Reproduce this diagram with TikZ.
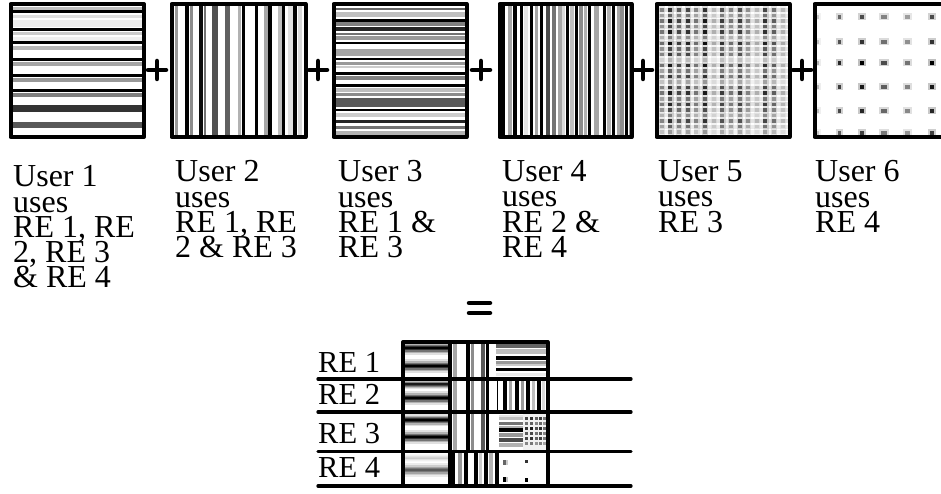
\documentclass[tikz,border=0pt]{standalone}
\usepackage{fontspec}
\setmainfont{Liberation Serif}
\newcommand{\mytight}{\lineskiplimit=-50pt\relax\lineskip=0pt\relax}
\newcommand{\mygband}[5]{%
  \foreach \k/\s in {1/12,0.75/30,0.5/55,0.3/80,0.12/100}{%
    \pgfmathsetmacro\myg{\s*#5/100}%
    \fill[black!\myg] (#1,{#3-#4*\k}) rectangle (#2,{#3+#4*\k});}}
\begin{document}
\begin{tikzpicture}[x=1pt,y=-1pt,
  sq/.style={draw=black,line width=4pt,line join=round},
  pluss/.style={line width=4.5pt,line cap=round},
  lbl/.style={font={\fontsize{32}{25.3}\selectfont\mytight},
    align=left,inner sep=0pt,anchor=north west},
  relbl/.style={font={\fontsize{30.5}{30}\selectfont},inner sep=0pt,anchor=base west},
  sepline/.style={line width=3.3pt,line cap=round}]
\useasboundingbox (0,0) rectangle (941,494);
\begin{scope}
\clip (0,0) rectangle (941,494);
% ---------- square 1 : horizontal stripes
\foreach \a/\b/\g in {7/10/25,10.5/13.5/100,15/18/12,20/27/8,28.5/31.5/100,32/35/20,37/41/6,
  41.5/44.5/100,46/50/28,58.5/61.5/100,62/66/35,74.5/77.5/100,78/82/40,89.5/92.5/100,
  93/97/50,105/112/80,122/128/65}
  \fill[black!\g] (10.5,\a) rectangle (144,\b);
\draw[sq] (10.5,4) rectangle (144,137);
% ---------- square 2 : vertical stripes
\foreach \a/\b/\g in {175/178/40,185/189/100,190/193/45,199/203/95,204/206/55,212/218/68,
  225/230/62,238/241/30,242/245/100,255/258/100,264/268/35,268/272/100,278/282/25,
  282/285/100,288/293/12,293/297/100,298/302/15}
  \fill[black!\g] (\a,4) rectangle (\b,137);
\draw[sq] (171.5,4) rectangle (305.5,137);
% ---------- square 3 : horizontal stripes
\foreach \a/\b/\g in {8/10/60,12/17/25,19/22/100,22/26/50,27/31/85,33/35/55,36/40/40,
  42/44.5/100,49/56/35,58/60.5/100,62/65/40,66/68/20,72/75/100,76/80/50,84/87/100,
  88/92/25,93/96/45,98/107/65,109/111/100,113/117/20,120/123/85,126/129/55,131/135/30}
  \fill[black!\g] (333.5,\a) rectangle (466.5,\b);
\draw[sq] (333.5,4) rectangle (466.5,137);
% ---------- square 4 : vertical stripes
\foreach \a/\b/\g in {501/505/100,508/512/35,513/517/100,520/523/100,524/528/10,530/533/100,
  535/538/35,540/543/100,546/550/70,552/556/55,558/562/35,562/565/15,566/569/100,570/574/25,
  575/578/100,579/583/45,584/587/30,588/591/100,594/599/35,603/606/100,607/611/30,
  612/615/100,617/620/35,620/624/45,625/628/100,629/631/40}
  \fill[black!\g] (\a,4) rectangle (\b,137);
\draw[sq] (499.5,4) rectangle (631.5,137);
% ---------- square 5 : grid of dots
\foreach \cw [count=\i] in {.6,1,.8,.9,.6,1,.35,.85,.6,.85,.55,.35,.9,.7,.35}{
  \pgfmathsetmacro\myh{\cw*14}
  \fill[black!\myh] ({650.3+8.65*\i},6) rectangle ({656.3+8.65*\i},135);
}
\foreach \rw [count=\j] in {.8,.6,.9,.7,.9,.5,.95,.7,.8,.3,.9,.6,.8,.4,.8,.9,.6,.85,.7,.5,.8,.6,.4}{
  \pgfmathsetmacro\myo{\rw*0.14}
  \fill[black,opacity=\myo] (658,{2.45+5.55*\j}) rectangle (788,{6.45+5.55*\j});
}
\foreach \cw [count=\i] in {.6,1,.8,.9,.6,1,.35,.85,.6,.85,.55,.35,.9,.7,.35}{
  \foreach \rw [count=\j] in {.8,.6,.9,.7,.9,.5,.95,.7,.8,.3,.9,.6,.8,.4,.8,.9,.6,.85,.7,.5,.8,.6,.4}{
    \pgfmathsetmacro\myg{\cw*\rw*100}
    \fill[black!\myg] ({651.0+8.65*\i},{2.7+5.55*\j}) rectangle +(4,3.5);
  }
}
\draw[sq] (656.5,4) rectangle (789.5,137);
% ---------- square 6 : sparse dots
\foreach \cx/\cw/\ww in {817/.3/4,839/.85/3,862/1/4,884/.7/6,907/.55/5,932/1/4}{
  \foreach \ry/\rw in {17/.7,42/.8,63/1,87/.9,111/.85,133/.75}{
    \pgfmathsetmacro\myg{\cw*\rw*100}
    \pgfmathsetmacro\myh{\cw*\rw*25}
    \fill[black!\myh] ({\cx-\ww/2-2},{\ry-3.5}) rectangle ({\cx+\ww/2+2},{\ry+3.5});
    \fill[black!\myg] ({\cx-\ww/2},{\ry-2}) rectangle ({\cx+\ww/2},{\ry+2});
  }
}
\draw[sq] (814.5,4) rectangle (948,137);
\end{scope}
% ---------- plus signs
\foreach \cx in {157,318,481,643,802}
  \draw[pluss] ({\cx-9},70) -- ({\cx+9},70) (\cx,61) -- (\cx,79);
% ---------- user texts
\node[lbl] (u1) at (13,165.4) {User 1\\uses\\RE 1, RE\\2, RE 3\\\& RE 4};
\node[lbl] (u2) at (175,160.4) {User 2\\uses\\RE 1, RE\\2 \& RE 3};
\node[lbl] (u3) at (338,160.4) {User 3\\uses\\RE 1 \&\\RE 3};
\node[lbl] (u4) at (502,160.4) {User 4\\uses\\RE 2 \&\\RE 4};
\node[lbl] (u5) at (658,160.4) {User 5\\uses\\RE 3};
\node[lbl] (u6) at (815,160.4) {User 6\\uses\\RE 4};
% ---------- equals
\draw[pluss] (469,303) -- (490,303) (469,313) -- (490,313);
% ---------- composite: column A
\mygband{403}{450}{348}{7}{100}
\mygband{403}{450}{366}{7}{100}
\mygband{403}{450}{384}{5}{90}
\mygband{403}{450}{398}{7}{100}
\mygband{403}{450}{420}{6}{100}
\mygband{403}{450}{437}{7}{100}
\mygband{403}{450}{458}{4}{20}
\mygband{403}{450}{470}{7}{65}
% column B rows 1-3
\foreach \a/\b/\g in {453/457/35,466/470/100,471/474/45,481/485/65,486/489/100}
  \fill[black!\g] (\a,342) rectangle (\b,451.5);
% column B row 4
\foreach \a/\b/\g in {451/455/100,458/462/40,464/468/100,474/478/100,479/482/20,484/488/100,
  489/493/30,495/499/100}
  \fill[black!\g] (\a,451.5) rectangle (\b,486);
% column C row 1
\foreach \a/\b/\g in {344/348/60,349/354/25,356/360/100,361/364/40,364/366/20,368/371/100,373/376/8}
  \fill[black!\g] (496,\a) rectangle (547.5,\b);
% column C row 2
\foreach \a/\b/\g in {497/498/100,503/507/100,509/512/35,515/519/100,521/524/40,526/530/100,
  532/535/25,537/541/100,542/545/15}
  \fill[black!\g] (\a,379) rectangle (\b,412);
% column C row 3
\foreach \a/\b/\g in {415/417/10,417/420/25,422/425/55,426/428/30,428/432/100,433/437/40,
  438/442/70,443/447/30}
  \fill[black!\g] (499,\a) rectangle (523,\b);
\fill[black!6] (523,413) rectangle (546,450);
\foreach \dx/\dw in {526.3/.8,531.3/.9,536.3/.7,540.7/.85,544.7/.6}
  \foreach \dy/\dv in {418/.9,423/.7,428/1,433/.8,438/.9,443/.6}{
    \pgfmathsetmacro\myg{\dw*\dv*100}
    \fill[black!\myg] ({\dx-1.5},{\dy-1.5}) rectangle ({\dx+1.5},{\dy+1.5});
  }
% column C row 4
\fill[black!20] (503,460) rectangle (508,465);
\fill[black!60] (503,460) rectangle (505.5,465);
\fill[black!80] (525,460) rectangle (528,463);
\fill[black!25] (503,477) rectangle (508,482);
\fill[black] (503,477) rectangle (505.5,482);
\fill[black] (525,478) rectangle (528,482);
% composite frame and separators
\draw[sq] (403,342) rectangle (547.5,486);
\draw[line width=3.5pt] (450,342) -- (450,486);
\foreach \yy in {379,412,451.5,486}
  \draw[sepline] (318,\yy) -- (631,\yy);
\node[relbl] (re1) at (318,372) {RE 1};
\node[relbl] (re2) at (318,404) {RE 2};
\node[relbl] (re3) at (318,443) {RE 3};
\node[relbl] (re4) at (318,477) {RE 4};
\end{tikzpicture}
\end{document}
